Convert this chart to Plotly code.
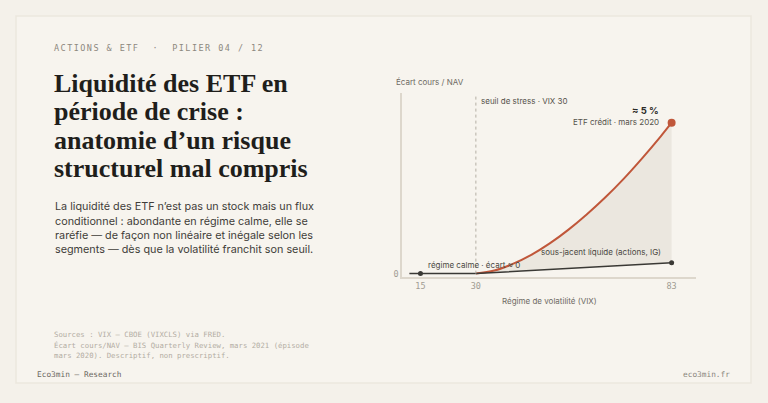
import plotly.graph_objects as go

W, H = 768, 403

# ---- data ----
vix_etf = [30, 35, 40, 45, 50, 55, 60, 65, 70, 75, 80, 83]
gap_etf = [0, 0.10, 0.32, 0.62, 1.00, 1.45, 1.96, 2.52, 3.14, 3.82, 4.54, 5.0]
vix_under = [12, 15, 30, 83]
gap_under = [0, 0, 0, 0.36]
stress_vix = 30
x_tickvals = [15, 30, 83]
x_ticktext = ["15", "30", "83"]

title_lines = ["Liquidité des ETF en", "période de crise :",
               "anatomie d’un risque", "structurel mal compris"]
para_lines = ["La liquidité des ETF n’est pas un stock mais un flux",
              "conditionnel : abondante en régime calme, elle se",
              "raréfie — de façon non linéaire et inégale selon les",
              "segments — dès que la volatilité franchit son seuil."]
source_lines = ["Sources : VIX — CBOE (VIXCLS) via FRED.",
                "Écart cours/NAV — BIS Quarterly Review, mars 2021 (épisode",
                "mars 2020). Descriptif, non prescriptif."]

RED = "#c0573a"
DARK = "#3a3935"
SANS = "Inter"
SERIF = "Liberation Serif"
MONO = "DejaVu Sans Mono"
BG = "#f4f1ea"


def px(x):
    return x / W


def py(y):
    return 1 - y / H


fig = go.Figure()

# invisible base for the fill
fig.add_trace(go.Scatter(x=vix_under[2:], y=gap_under[2:], mode="lines",
                         line=dict(width=0, color="rgba(0,0,0,0)"),
                         hoverinfo="skip", showlegend=False))
fig.add_trace(go.Scatter(x=vix_etf, y=gap_etf, mode="lines", line_shape="spline",
                         line=dict(color=RED, width=2),
                         fill="tonexty", fillcolor="#ebe7df",
                         showlegend=False))
fig.add_trace(go.Scatter(x=vix_under, y=gap_under, mode="lines",
                         line=dict(color=DARK, width=1.5), showlegend=False))
fig.add_trace(go.Scatter(x=[vix_under[1], vix_under[-1]], y=[gap_under[1], gap_under[-1]],
                         mode="markers", marker=dict(color=DARK, size=5), showlegend=False))
fig.add_trace(go.Scatter(x=[vix_etf[-1]], y=[gap_etf[-1]], mode="markers",
                         marker=dict(color=RED, size=8), showlegend=False))

# stress threshold
fig.add_shape(type="line", x0=stress_vix, x1=stress_vix, y0=0, y1=5.9,
              xref="x", yref="y", line=dict(color="#b5afa4", width=1, dash="3px,3px"))

# card
fig.add_shape(type="rect", xref="paper", yref="paper",
              x0=px(16), x1=px(751), y0=py(385), y1=py(16),
              line=dict(color="#ebe7de", width=1.5), fillcolor="#f7f4ee", layer="below")

ann = []


def T(x, y, text, size, color, family=SANS, xanchor="left", yanchor="middle", **kw):
    ann.append(dict(x=px(x), y=py(y), xref="paper", yref="paper", text=text,
                    showarrow=False, xanchor=xanchor, yanchor=yanchor,
                    font=dict(size=size, color=color, family=family), **kw))


T(52, 48.5, '<span style="letter-spacing:1.45px">ACTIONS &amp; ETF  ·  PILIER 04 / 12</span>',
  8.5, "#8d887e", MONO)

for i, line in enumerate(title_lines):
    T(52, 84 + i * 28.5, "<b>" + line + "</b>", 26, "#1f1e1b", SERIF)

for i, line in enumerate(para_lines):
    T(53, 208 + i * 14.4, line, 10.8, "#3f3d39", SANS)

for i, line in enumerate(source_lines):
    T(52, 336.5 + i * 10.6, line, 7.3, "#b3ada3", MONO)

T(35, 376.5, "Eco3min — Research", 7.8, "#6b675f", MONO)
T(732, 376.5, "eco3min.fr", 7.8, "#8a857c", MONO, xanchor="right")

# chart texts
T(393.5, 82, "Écart cours / NAV", 8, "#6f6b64", SANS)
T(478.5, 102, "seuil de stress · VIX 30", 8, "#55524c", SANS)
T(661, 111.5, "<b>≈ 5 %</b>", 9.5, "#2b2a27", SANS, xanchor="right")
T(661, 122.5, "ETF crédit · mars 2020", 8, "#55524c", SANS, xanchor="right")
T(425.5, 266, "régime calme · écart ≈ 0", 8, "#4a4842", SANS)
T(663, 253.5, "sous-jacent liquide (actions, IG)", 8, "#4a4842", SANS, xanchor="right")
T(549, 302, "Régime de volatilité (VIX)", 8, "#6f6b64", SANS, xanchor="center")

fig.update_layout(
    width=W, height=H, margin=dict(l=0, r=0, t=0, b=0),
    paper_bgcolor=BG, plot_bgcolor="rgba(0,0,0,0)",
    annotations=ann, showlegend=False,
    xaxis=dict(domain=[px(402), px(696)], range=[10, 89.6],
               tickvals=x_tickvals, ticktext=x_ticktext,
               tickfont=dict(family=MONO, size=8.5, color="#a19c93"),
               showgrid=False, zeroline=False, showline=True,
               linecolor="#ddd7cc", linewidth=1.5, ticks="", fixedrange=True),
    yaxis=dict(domain=[py(278), py(93)], range=[-0.1, 6.0],
               tickvals=[0], ticktext=["0"],
               tickfont=dict(family=MONO, size=8.5, color="#a19c93"),
               showgrid=False, zeroline=False, showline=True,
               linecolor="#ddd7cc", linewidth=1.5, ticks="", fixedrange=True),
)

fig.write_html("out.html", config={"displayModeBar": False},
               post_script="document.body.style.margin='0';"
                           "document.body.style.background='" + BG + "';")
